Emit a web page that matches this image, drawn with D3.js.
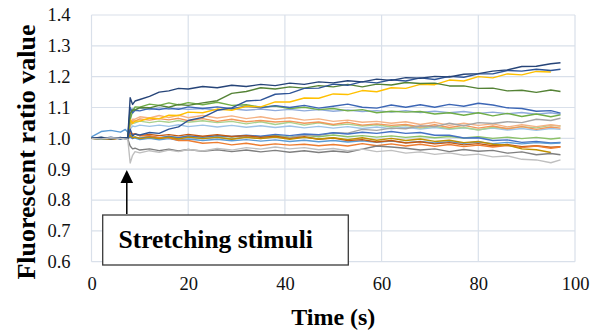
<!DOCTYPE html>
<html><head><meta charset="utf-8">
<script src="https://cdn.jsdelivr.net/npm/d3@7/dist/d3.min.js"></script>
<style>body{margin:0;background:#fff}svg{display:block}
.serif{font-family:"Liberation Serif","Times New Roman",Times,"DejaVu Serif",serif;}
</style>
</head><body>
<svg id="c" width="599" height="336"></svg>
<script>
const times = [0,2,4,6,7,7.5,8,8.5,9,10,12,14,16,18,20,23,26,29,32,35,38,41,44,47,50,53,56,59,62,65,68,71,74,77,80,83,86,89,92,95,97];
const xTicks = [0,20,40,60,80,100];
const yTicks = [0.6,0.7,0.8,0.9,1.0,1.1,1.2,1.3,1.4];
const xTitle = "Time (s)";
const yTitle = "Fluorescent ratio value";
const annotation = "Stretching stimuli";
const stimulusTime = 7.3;

const s1 = [1.000,1.004,0.998,1.003,1.000,1.002,1.132,1.110,1.121,1.126,1.136,1.150,1.154,1.162,1.160,1.168,1.164,1.172,1.168,1.175,1.171,1.179,1.175,1.183,1.180,1.187,1.183,1.192,1.188,1.197,1.195,1.201,1.199,1.208,1.210,1.218,1.222,1.233,1.234,1.242,1.245];
const s2 = [1.003,0.999,1.004,0.998,1.002,1.000,1.030,1.008,1.014,1.011,1.019,1.016,1.030,1.037,1.058,1.068,1.091,1.099,1.121,1.124,1.143,1.146,1.162,1.163,1.176,1.172,1.184,1.180,1.190,1.186,1.196,1.191,1.201,1.198,1.209,1.209,1.220,1.218,1.224,1.220,1.224];
const s3 = [1.001,0.997,1.002,0.999,1.001,1.000,1.080,1.092,1.092,1.100,1.099,1.107,1.101,1.110,1.107,1.115,1.122,1.146,1.152,1.164,1.160,1.167,1.163,1.171,1.167,1.175,1.167,1.176,1.173,1.181,1.178,1.179,1.170,1.170,1.162,1.163,1.154,1.156,1.149,1.157,1.152];
const s4 = [1.000,1.002,0.998,1.001,1.000,1.001,1.062,1.048,1.056,1.056,1.066,1.064,1.075,1.074,1.085,1.083,1.095,1.091,1.104,1.102,1.118,1.118,1.131,1.130,1.144,1.142,1.155,1.151,1.164,1.162,1.175,1.174,1.189,1.186,1.200,1.196,1.209,1.206,1.217,1.215,null];
const s5 = [1.000,1.002,0.998,1.001,0.999,1.002,1.100,1.082,1.091,1.089,1.097,1.093,1.099,1.094,1.102,1.097,1.102,1.096,1.104,1.099,1.106,1.100,1.107,1.098,1.104,1.111,1.101,1.098,1.108,1.101,1.109,1.101,1.110,1.104,1.114,1.108,1.099,1.097,1.088,1.090,1.082];
const s6 = [1.000,0.998,1.002,0.999,1.001,0.998,1.060,1.088,1.102,1.101,1.111,1.107,1.115,1.108,1.116,1.109,1.117,1.107,1.109,1.101,1.105,1.097,1.101,1.093,1.097,1.089,1.093,1.083,1.088,1.085,1.087,1.079,1.083,1.075,1.083,1.073,1.081,1.071,1.079,1.070,1.076];
const s7 = [1.000,1.001,0.999,1.001,0.999,1.000,1.090,1.096,1.093,1.098,1.093,1.099,1.094,1.097,1.094,1.097,1.092,1.096,1.091,1.095,1.090,1.094,1.089,1.093,1.088,1.092,1.087,1.090,1.085,1.090,1.084,1.088,1.083,1.087,1.081,1.085,1.080,1.084,1.078,1.083,1.078];
const s8 = [1.000,1.002,0.999,1.001,0.999,1.001,1.040,1.050,1.050,1.056,1.051,1.056,1.052,1.058,1.052,1.057,1.051,1.055,1.047,1.054,1.045,1.052,1.043,1.050,1.042,1.046,1.040,1.044,1.037,1.042,1.033,1.039,1.031,1.035,1.027,1.036,1.032,1.038,1.034,1.042,1.040];
const s9 = [1.000,0.998,1.002,0.999,1.001,0.998,1.050,1.062,1.062,1.070,1.066,1.074,1.067,1.075,1.067,1.074,1.066,1.073,1.064,1.070,1.062,1.067,1.059,1.063,1.055,1.059,1.052,1.055,1.049,1.054,1.045,1.052,1.042,1.049,1.042,1.047,1.037,1.044,1.038,1.044,1.040];
const s10 = [1.000,1.001,0.998,1.002,0.999,1.000,1.045,1.057,1.056,1.063,1.059,1.064,1.060,1.065,1.057,1.064,1.055,1.062,1.054,1.058,1.053,1.056,1.049,1.053,1.045,1.052,1.043,1.047,1.042,1.045,1.037,1.044,1.035,1.042,1.033,1.040,1.031,1.038,1.029,1.037,1.033];
const s11 = [1.000,1.002,0.998,1.001,1.000,1.001,1.010,1.004,1.004,1.000,1.003,0.998,1.004,0.999,1.003,0.999,1.004,0.998,1.005,0.999,1.006,1.002,1.011,1.009,1.018,1.017,1.029,1.026,1.033,1.031,1.041,1.038,1.049,1.041,1.051,1.048,1.054,1.051,1.062,1.058,1.065];
const s12 = [1.000,1.001,0.999,1.001,0.999,1.000,1.030,1.040,1.038,1.043,1.039,1.043,1.039,1.044,1.038,1.043,1.037,1.042,1.036,1.041,1.035,1.040,1.034,1.039,1.033,1.038,1.032,1.037,1.031,1.036,1.030,1.035,1.029,1.034,1.028,1.033,1.027,1.032,1.026,1.032,1.029];
const s13 = [1.000,0.998,1.001,1.000,1.001,0.999,1.022,1.014,1.015,1.008,1.009,1.002,1.002,0.993,0.993,0.984,0.987,0.979,0.984,0.977,0.982,0.978,0.981,0.976,0.980,0.975,0.983,0.976,0.982,0.975,0.981,0.974,0.980,0.973,0.978,0.972,0.977,0.970,0.975,0.968,0.972];
const s14 = [1.000,1.001,0.998,1.001,1.000,1.001,1.018,1.012,1.014,1.009,1.013,1.009,1.012,1.008,1.013,1.007,1.012,1.006,1.009,1.003,1.007,0.999,1.005,0.997,1.001,0.993,0.996,0.988,0.993,0.985,0.989,0.982,0.986,0.979,0.983,0.976,0.980,0.973,0.976,0.971,0.973];
const s15 = [1.000,1.001,0.999,1.002,0.999,1.000,1.010,1.002,1.004,0.999,1.003,0.999,1.004,0.998,1.004,0.999,1.003,0.997,1.003,0.999,1.004,0.997,1.003,0.998,1.002,0.996,1.002,0.994,1.000,0.993,0.998,0.990,0.994,0.986,0.990,0.981,0.978,0.966,0.963,0.954,null];
const s16 = [1.000,0.998,1.001,1.002,0.999,0.998,0.975,0.966,0.968,0.962,0.966,0.960,0.965,0.959,0.964,0.958,0.963,0.957,0.962,0.956,0.961,0.955,0.960,0.954,0.959,0.955,0.965,0.975,0.972,0.968,0.962,0.966,0.957,0.964,0.958,0.961,0.952,0.956,0.947,0.951,0.947];
const s17 = [1.000,0.998,1.002,1.000,0.998,0.997,0.920,0.945,0.957,0.953,0.960,0.955,0.962,0.957,0.964,0.959,0.967,0.962,0.970,0.965,0.972,0.966,0.970,0.963,0.967,0.960,0.965,0.957,0.961,0.952,0.956,0.948,0.953,0.945,0.949,0.940,0.943,0.932,0.930,0.921,0.930];
const s18 = [1.005,1.022,1.026,1.020,1.029,1.020,1.015,1.004,1.001,0.996,1.000,0.995,0.999,0.994,0.998,0.993,0.997,0.992,0.996,0.991,0.995,0.990,0.994,0.989,0.993,0.988,0.992,0.987,0.991,0.986,0.990,0.985,0.989,0.984,0.988,0.983,0.987,0.982,0.986,0.983,0.985];
const s19 = [1.000,1.001,0.998,1.002,1.000,0.999,1.005,0.999,1.003,1.000,1.005,1.002,1.006,1.002,1.008,1.004,1.009,1.006,1.010,1.007,1.013,1.009,1.014,1.012,1.018,1.014,1.020,1.016,1.022,1.016,1.019,1.010,1.010,1.001,1.002,0.993,0.995,0.987,0.990,0.985,0.987];
const s20 = [1.000,1.003,1.000,1.002,1.001,1.002,1.006,1.002,1.004,1.001,1.006,1.001,1.006,1.002,1.007,1.003,1.008,1.004,1.009,1.005,1.010,1.004,1.010,1.005,1.011,1.005,1.009,1.004,1.008,1.003,1.007,1.002,1.006,1.001,1.005,1.000,1.004,0.999,1.003,0.998,1.001];

const seriesList = [s20,s12,s8,s10,s9,s11,s7,s6,s5,s19,s18,s14,s13,s15,s16,s4,s3,s2,s1,s17];
const seriesColors = ["#8CC168","#9DC3E6","#A9D18E","#F1975A","#F4B183","#A5A5A5","#8FAADC","#70AD47","#3C66B5","#4472C4","#5B9BD5","#C55A11","#ED7D31","#BF9000","#7F7F7F","#FFC000","#548235","#2F5597","#264478","#BFBFBF"];

const svg = d3.select("#c");
const L = 91.5, R = 575, T = 15, B = 261.7;
const x = d3.scaleLinear().domain([0,100]).range([L,R]);
const y = d3.scaleLinear().domain([0.6,1.4]).range([B,T]);
const grid = "#d9e0ea";
const serif = '"Liberation Serif","Times New Roman",Times,"DejaVu Serif",serif';

svg.append("g").selectAll("line").data(yTicks).join("line")
  .attr("x1",L).attr("x2",R).attr("y1",d=>y(d)).attr("y2",d=>y(d))
  .attr("stroke",grid).attr("stroke-width",1.2);
svg.append("g").selectAll("line").data(xTicks).join("line")
  .attr("y1",T).attr("y2",B).attr("x1",d=>x(d)).attr("x2",d=>x(d))
  .attr("stroke",grid).attr("stroke-width",1.2);

const xAxis = svg.append("g").attr("transform",`translate(0,${B})`)
  .call(d3.axisBottom(x).tickValues(xTicks).tickSize(0).tickPadding(15).tickFormat(d3.format("d")));
const yAxis = svg.append("g").attr("transform",`translate(${L},0)`)
  .call(d3.axisLeft(y).tickValues(yTicks).tickSize(0).tickPadding(21).tickFormat(d3.format(".1f")));
[xAxis,yAxis].forEach(a=>{
  a.attr("font-family",null);
  a.select(".domain").remove();
  a.selectAll("text").attr("class","serif").style("font-family",serif)
    .style("font-size","18.5px").attr("fill","#111");
});

const line = d3.line().defined(d=>d[1]!=null).x(d=>x(d[0])).y(d=>y(d[1]));
svg.append("g").selectAll("path").data(seriesList).join("path")
  .attr("d",s=>line(s.map((v,i)=>[times[i],v])))
  .attr("fill","none")
  .attr("stroke",(s,i)=>seriesColors[i])
  .attr("stroke-width",1.4)
  .attr("stroke-linejoin","round");

svg.append("text").attr("x",(L+R)/2).attr("y",325)
  .attr("text-anchor","middle").style("font-family",serif)
  .style("font-weight","bold").style("font-size","24px").attr("fill","#000").text(xTitle);
svg.append("text").attr("transform","translate(35,152) rotate(-90)")
  .attr("text-anchor","middle").style("font-family",serif)
  .style("font-weight","bold").style("font-size","26px").attr("fill","#000").text(yTitle);

const ax = x(stimulusTime);
svg.append("line").attr("x1",ax).attr("x2",ax).attr("y1",214).attr("y2",181)
  .attr("stroke","#000").attr("stroke-width",1.5);
svg.append("path").attr("d",`M${ax},170 L${ax-6.3},183 L${ax+6.3},183 Z`).attr("fill","#000");

svg.append("rect").attr("x",102.7).attr("y",215).attr("width",245.6).attr("height",50)
  .attr("fill","#fff").attr("stroke","#3a3a3a").attr("stroke-width",1.3);
svg.append("text").attr("x",118.5).attr("y",248)
  .style("font-family",serif)
  .style("font-weight","bold").style("font-size","25.5px").attr("fill","#000").text(annotation);
</script>
</body></html>
